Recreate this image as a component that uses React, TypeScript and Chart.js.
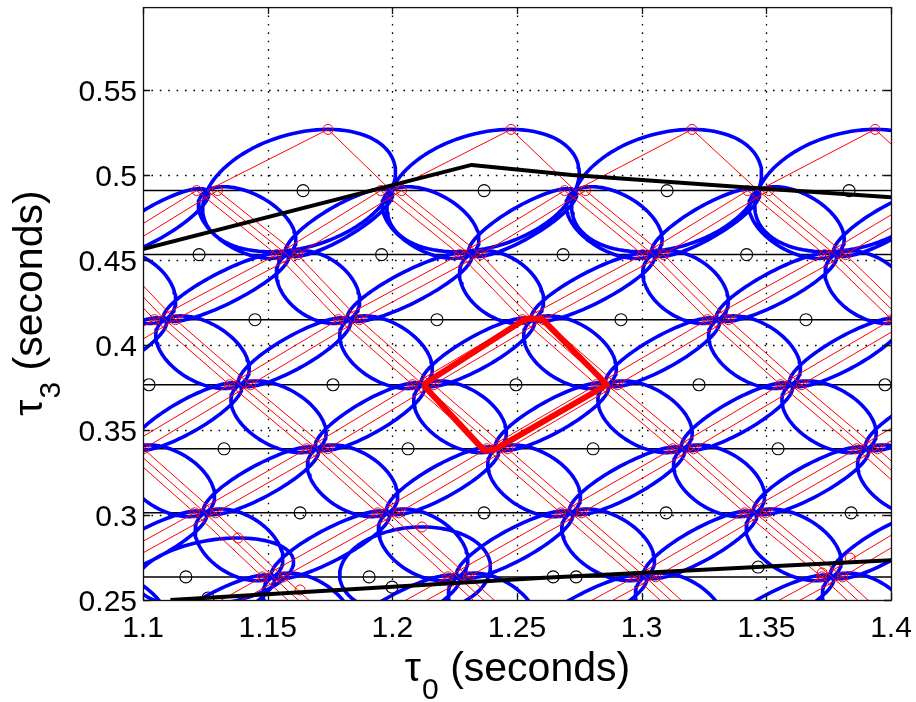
import React, { useEffect, useRef } from "react";
import { Chart, registerables } from "chart.js";
Chart.register(...registerables);

// ---- axes ----
const X_MIN = 1.1;
const X_MAX = 1.4;
const Y_MIN = 0.25;
const Y_MAX = 0.599;
const xTicks = [1.1, 1.15, 1.2, 1.25, 1.3, 1.35, 1.4];
const xTickLabels = ["1.1", "1.15", "1.2", "1.25", "1.3", "1.35", "1.4"];
const yTicks = [0.25, 0.3, 0.35, 0.4, 0.45, 0.5, 0.55];
const yTickLabels = ["0.25", "0.3", "0.35", "0.4", "0.45", "0.5", "0.55"];

// ---- lattice vertices (tau0 per row), rows of tau3 ----
const rowTau3 = [0.491, 0.4533, 0.415, 0.3767, 0.339, 0.3013, 0.2636, 0.2259];
const row0 = [1.0519, 1.1257, 1.1995, 1.2733, 1.3467, 1.4205];
const row1 = [1.084, 1.1578, 1.2312, 1.3046, 1.3776, 1.4514];
const row2 = [1.035, 1.1088, 1.1826, 1.2564, 1.3306, 1.4045];
const row3 = [1.0651, 1.1389, 1.2123, 1.2861, 1.3599, 1.4337];
const row4 = [1.096, 1.1698, 1.242, 1.3166, 1.3904, 1.4642];
const row5 = [1.0511, 1.1249, 1.1983, 1.2717, 1.3455, 1.4193];
const row6 = [1.0783, 1.1521, 1.2264, 1.3014, 1.3764, 1.4502];
const row7 = [1.1064, 1.1802, 1.2545, 1.3295, 1.4045];
const latticeRows = [row0, row1, row2, row3, row4, row5, row6, row7];
const visibleRowCount = 7;

// top-row templates
const topTau3 = 0.527;
const topTau0 = [1.1742, 1.2476, 1.3202, 1.3936];

// extra boundary templates near the bottom edge
const extraRedTau0 = [1.1381, 1.2119, 1.163, 1.3836, 1.3724];
const extraRedTau3 = [0.2865, 0.293, 0.2559, 0.2747, 0.2659];
// their ellipses: centre, first and second conjugate half-axes
const extraEllCx = [1.1289, 1.2091];
const extraEllCy = [0.2665, 0.2671];
const extraEllU = [0.0301, 0.0301];
const extraEllVx = [0.0092, 0.0028];
const extraEllVy = [0.02, 0.0259];

// red template cluster offsets (tau0)
const clusterOffsets = [-0.0042, 0, 0.0042];
const upLineOffsets = [-0.0042, 0.0042];

// ellipse conjugate half-axes (data units)
const roundConj = [0.0112, 0.0095];
const elongConj = [0.0052, -0.0066];

// black circles
const blackRow0 = [1.1642, 1.2368, 1.3102, 1.3832];
const blackRow1 = [1.1225, 1.1957, 1.2685, 1.3421];
const blackRow2 = [1.1449, 1.2179, 1.2917, 1.3659];
const blackRow3 = [1.1024, 1.1762, 1.2496, 1.323, 1.3976];
const blackRow4 = [1.1325, 1.2063, 1.2805, 1.3547];
const blackRow5 = [1.163, 1.2368, 1.3098, 1.384];
const blackRow6 = [1.1172, 1.1907, 1.2645, 1.2737];
const blackRows = [blackRow0, blackRow1, blackRow2, blackRow3, blackRow4, blackRow5, blackRow6];
const blackExtraTau0 = [1.3467, 1.1261, 1.1999];
const blackExtraTau3 = [0.2694, 0.2512, 0.2576];

// boundary curves
const upperTau0 = [1.1, 1.2318, 1.272, 1.3467, 1.3736, 1.4];
const upperTau3 = [0.4566, 0.5061, 0.5002, 0.4924, 0.4897, 0.487];
const lowerTau0 = [1.111, 1.2592, 1.4004];
const lowerTau3 = [0.25, 0.2629, 0.2735];

// highlighted cell
const cellTau0 = [1.2123, 1.2535, 1.26, 1.2861, 1.241, 1.2365, 1.2123];
const cellTau3 = [0.3767, 0.4155, 0.4155, 0.3767, 0.3385, 0.3385, 0.3767];

type P = { x: number | null; y: number | null };
const GAP: P = { x: null, y: null };

function conjEllipse(cx: number, cy: number, ux: number, uy: number, vx: number, vy: number): P[] {
  const pts: P[] = [];
  const n = 100;
  for (let i = 0; i <= n; i++) {
    const t = (i / n) * Math.PI * 2;
    pts.push({ x: cx + Math.cos(t) * ux + Math.sin(t) * vx, y: cy + Math.cos(t) * uy + Math.sin(t) * vy });
  }
  pts.push(GAP);
  return pts;
}

function buildData() {
  const blue: P[] = [];
  const red: P[] = [];
  const redPts: P[] = [];
  for (let r = 0; r < latticeRows.length - 1; r++) {
    const ya = rowTau3[r];
    const yb = rowTau3[r + 1];
    for (const a of latticeRows[r]) {
      for (const b of latticeRows[r + 1]) {
        const d = b - a;
        if (d > 0.015 && d < 0.04) {
          blue.push(...conjEllipse((a + b) / 2, (ya + yb) / 2, d / 2, (yb - ya) / 2, roundConj[0], roundConj[1]));
          for (const o of clusterOffsets) red.push({ x: a + o, y: ya }, { x: b + o, y: yb }, GAP);
        }
        const e = a - b;
        if (e > 0.035 && e < 0.062) {
          blue.push(...conjEllipse((a + b) / 2, (ya + yb) / 2, e / 2, (ya - yb) / 2, elongConj[0], elongConj[1]));
          for (const o of upLineOffsets) red.push({ x: b + o, y: yb }, { x: a + o, y: ya }, GAP);
        }
      }
    }
  }
  for (let r = 0; r < visibleRowCount; r++) {
    for (const a of latticeRows[r]) for (const o of upLineOffsets) redPts.push({ x: a + o, y: rowTau3[r] });
  }
  for (const t of topTau0) {
    const left = row0.filter((v) => t - v > 0.035 && t - v < 0.062)[0];
    const right = row0.filter((v) => v - t > 0.015 && v - t < 0.04)[0];
    const cx = (left + right) / 2;
    const cy = rowTau3[0];
    blue.push(...conjEllipse(cx, cy, (right - left) / 2, 0, t - cx, topTau3 - cy));
    red.push({ x: left, y: cy }, { x: t, y: topTau3 }, { x: right, y: cy }, GAP);
    redPts.push({ x: t, y: topTau3 });
  }
  extraEllCx.forEach((cx, i) =>
    blue.push(...conjEllipse(cx, extraEllCy[i], extraEllU[i], 0, extraEllVx[i], extraEllVy[i]))
  );
  extraRedTau0.forEach((v, i) => redPts.push({ x: v, y: extraRedTau3[i] }));
  const hlines: P[] = [];
  for (let r = 0; r < visibleRowCount; r++) hlines.push({ x: X_MIN, y: rowTau3[r] }, { x: X_MAX, y: rowTau3[r] }, GAP);
  const blackPts: P[] = [];
  blackRows.forEach((row, r) => row.forEach((v) => blackPts.push({ x: v, y: rowTau3[r] })));
  blackExtraTau0.forEach((v, i) => blackPts.push({ x: v, y: blackExtraTau3[i] }));
  const upper = upperTau0.map((v, i) => ({ x: v, y: upperTau3[i] }));
  const lower = lowerTau0.map((v, i) => ({ x: v, y: lowerTau3[i] }));
  const cell = cellTau0.map((v, i) => ({ x: v, y: cellTau3[i] }));
  return { blue, red, redPts, hlines, blackPts, upper, lower, cell };
}

const FONT = "'Liberation Sans', Arial, Helvetica, sans-serif";

const matlabPlugin = {
  id: "matlabAxes",
  beforeDatasetsDraw(chart: any) {
    const { ctx, chartArea: a, scales } = chart;
    const xs = scales.x;
    const ys = scales.y;
    ctx.save();
    ctx.strokeStyle = "#000";
    ctx.lineWidth = 1.3;
    ctx.setLineDash([1.6, 6.8]);
    for (const v of xTicks) {
      if (v <= X_MIN + 1e-9 || v >= X_MAX - 1e-9) continue;
      const px = Math.round(xs.getPixelForValue(v)) + 0.5;
      ctx.beginPath();
      ctx.moveTo(px, a.top);
      ctx.lineTo(px, a.bottom);
      ctx.stroke();
    }
    for (const v of yTicks) {
      if (v <= Y_MIN + 1e-9) continue;
      const py = Math.round(ys.getPixelForValue(v)) + 0.5;
      ctx.beginPath();
      ctx.moveTo(a.left, py);
      ctx.lineTo(a.right, py);
      ctx.stroke();
    }
    ctx.restore();
  },
  afterDatasetsDraw(chart: any) {
    const { ctx, chartArea: a, scales } = chart;
    const xs = scales.x;
    const ys = scales.y;
    ctx.save();
    ctx.strokeStyle = "#111";
    ctx.lineWidth = 1.3;
    ctx.setLineDash([]);
    ctx.strokeRect(a.left + 0.5, a.top + 0.5, a.right - a.left, a.bottom - a.top);
    const tl = 7;
    ctx.beginPath();
    for (const v of xTicks) {
      const px = Math.round(xs.getPixelForValue(v)) + 0.5;
      ctx.moveTo(px, a.bottom);
      ctx.lineTo(px, a.bottom - tl);
      ctx.moveTo(px, a.top);
      ctx.lineTo(px, a.top + tl);
    }
    for (const v of yTicks) {
      const py = Math.round(ys.getPixelForValue(v)) + 0.5;
      ctx.moveTo(a.left, py);
      ctx.lineTo(a.left + tl, py);
      ctx.moveTo(a.right, py);
      ctx.lineTo(a.right - tl, py);
    }
    ctx.stroke();

    ctx.fillStyle = "#000";
    ctx.font = `30px ${FONT}`;
    ctx.textBaseline = "alphabetic";
    ctx.textAlign = "center";
    xTicks.forEach((v, i) => ctx.fillText(xTickLabels[i], xs.getPixelForValue(v), a.bottom + 37));
    ctx.textAlign = "right";
    yTicks.forEach((v, i) => ctx.fillText(yTickLabels[i], a.left - 6, ys.getPixelForValue(v) + 10.5));

    const drawLabel = (sub: string) => {
      const main = 41;
      const subSize = 30;
      ctx.font = `${main}px ${FONT}`;
      const wTau = ctx.measureText("\u03c4").width;
      const wRest = ctx.measureText(" (seconds)").width;
      ctx.font = `${subSize}px ${FONT}`;
      const wSub = ctx.measureText(sub).width;
      const total = wTau + wSub + wRest;
      const x0 = -total / 2;
      ctx.textAlign = "left";
      ctx.font = `${main}px ${FONT}`;
      ctx.fillText("\u03c4", x0, 0);
      ctx.font = `${subSize}px ${FONT}`;
      ctx.fillText(sub, x0 + wTau + 1, 18);
      ctx.font = `${main}px ${FONT}`;
      ctx.fillText(" (seconds)", x0 + wTau + wSub + 1, 0);
    };
    ctx.save();
    ctx.translate((a.left + a.right) / 2, 681);
    drawLabel("0");
    ctx.restore();
    ctx.save();
    ctx.translate(42, (a.top + a.bottom) / 2);
    ctx.rotate(-Math.PI / 2);
    drawLabel("3");
    ctx.restore();
    ctx.restore();
  },
};

export default function App() {
  const ref = useRef<HTMLCanvasElement | null>(null);
  useEffect(() => {
    document.body.style.margin = "0";
    const d = buildData();
    const lineDs = (data: P[], color: string, width: number, order: number) => ({
      data,
      showLine: true,
      borderColor: color,
      backgroundColor: color,
      borderWidth: width,
      pointRadius: 0,
      pointHoverRadius: 0,
      fill: false,
      tension: 0,
      spanGaps: false,
      order,
      borderJoinStyle: "round" as const,
    });
    const chart = new Chart(ref.current as HTMLCanvasElement, {
      type: "scatter",
      data: {
        datasets: [
          lineDs(d.cell, "#ff0000", 6, 0),
          lineDs(d.upper, "#000000", 4, 1),
          lineDs(d.lower, "#000000", 4, 1),
          {
            data: d.redPts,
            showLine: false,
            pointRadius: 5,
            pointBorderWidth: 1,
            pointBorderColor: "#ff0000",
            pointBackgroundColor: "rgba(0,0,0,0)",
            order: 2,
          },
          lineDs(d.red, "#ff0000", 1, 3),
          lineDs(d.blue, "#0000ff", 3.6, 4),
          {
            data: d.blackPts,
            showLine: false,
            pointRadius: 6,
            pointBorderWidth: 1.1,
            pointBorderColor: "#000000",
            pointBackgroundColor: "rgba(0,0,0,0)",
            order: 5,
          },
          lineDs(d.hlines, "#000000", 1.5, 6),
        ] as any,
      },
      options: {
        animation: false,
        responsive: false,
        events: [],
        layout: { padding: { left: 143, right: 25, top: 7, bottom: 102 } },
        scales: {
          x: { type: "linear", min: X_MIN, max: X_MAX, display: false },
          y: { type: "linear", min: Y_MIN, max: Y_MAX, display: false },
        },
        plugins: { legend: { display: false }, tooltip: { enabled: false } },
      },
      plugins: [matlabPlugin],
    });
    return () => chart.destroy();
  }, []);
  return <canvas ref={ref} width={916} height={702} style={{ display: "block", background: "#fff" }} />;
}
